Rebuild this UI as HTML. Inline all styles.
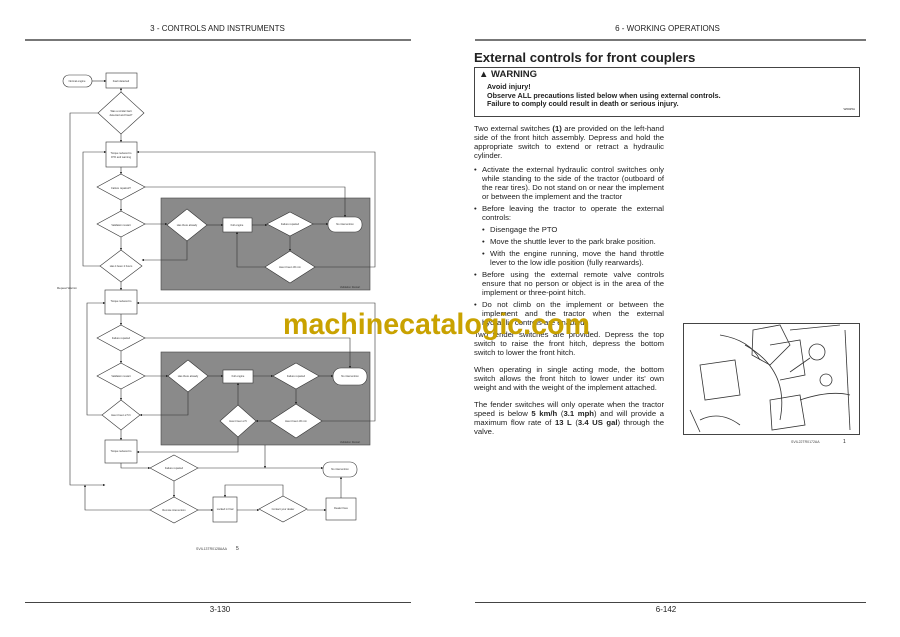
<!DOCTYPE html>
<html><head><meta charset="utf-8"><style>
html,body{margin:0;padding:0;background:#fff;}
body{width:900px;height:637px;position:relative;overflow:hidden;font-family:"Liberation Sans",sans-serif;color:#222;}
.a{position:absolute;}
.p{font-size:7.7px;line-height:9px;text-align:justify;width:190px;left:474px;}
.b{padding-left:8px;position:relative;}
.b:before{content:"•";position:absolute;left:0;}
.bb{padding-left:16px;position:relative;}
.bb:before{content:"•";position:absolute;left:8px;}
</style></head><body>
<div class="a" style="left:0;top:24px;width:435px;text-align:center;font-size:8px;">3 - CONTROLS AND INSTRUMENTS</div>
<div class="a" style="left:450px;top:24px;width:435px;text-align:center;font-size:8px;">6 - WORKING OPERATIONS</div>
<div class="a" style="left:25px;top:39px;width:386px;height:2px;background:#777"></div>
<div class="a" style="left:475px;top:39px;width:391px;height:2px;background:#777"></div>
<div class="a" style="left:25px;top:602px;width:386px;height:1px;background:#444"></div>
<div class="a" style="left:475px;top:602px;width:391px;height:1px;background:#444"></div>
<div class="a" style="left:180px;top:605px;width:80px;text-align:center;font-size:8px;">3-130</div>
<div class="a" style="left:626px;top:605px;width:80px;text-align:center;font-size:8px;">6-142</div>

<div class="a" style="left:474px;top:50px;font-size:13.2px;font-weight:bold;">External controls for front couplers</div>
<div class="a" style="left:474px;top:67px;width:384px;height:48px;border:1.5px solid #444;">
<div style="position:absolute;left:4px;top:1px;font-size:9.5px;font-weight:bold;">▲ WARNING</div>
<div style="position:absolute;left:12px;top:15px;font-size:7.2px;line-height:8.6px;font-weight:bold;">Avoid injury!<br>Observe ALL precautions listed below when using external controls.<br>Failure to comply could result in death or serious injury.</div>
<div style="position:absolute;right:4px;top:39px;font-size:3px;">W0025A</div>
</div>
<div class="a p" style="top:124px;">Two external switches <b>(1)</b> are provided on the left-hand side of the front hitch assembly. Depress and hold the appropriate switch to extend or retract a hydraulic cylinder.
<div class="b" style="margin-top:5px">Activate the external hydraulic control switches only while standing to the side of the tractor (outboard of the rear tires). Do not stand on or near the implement or between the implement and the tractor</div>
<div class="b" style="margin-top:3px">Before leaving the tractor to operate the external controls:</div>
<div class="bb" style="margin-top:3px">Disengage the PTO</div>
<div class="bb" style="margin-top:3px">Move the shuttle lever to the park brake position.</div>
<div class="bb" style="margin-top:3px">With the engine running, move the hand throttle lever to the low idle position (fully rearwards).</div>
<div class="b" style="margin-top:3px">Before using the external remote valve controls ensure that no person or object is in the area of the implement or three-point hitch.</div>
<div class="b" style="margin-top:3px">Do not climb on the implement or between the implement and the tractor when the external hydraulic controls are enabled.</div>
<div style="margin-top:3px">Two fender switches are provided. Depress the top switch to raise the front hitch, depress the bottom switch to lower the front hitch.</div>
<div style="margin-top:8px">When operating in single acting mode, the bottom switch allows the front hitch to lower under its' own weight and with the weight of the implement attached.</div>
<div style="margin-top:8px">The fender switches will only operate when the tractor speed is below <b>5 km/h</b> (<b>3.1 mph</b>) and will provide a maximum flow rate of <b>13 L</b> (<b>3.4 US gal</b>) through the valve.</div>
</div>

<svg class="a" style="left:0;top:0" width="900" height="637" viewBox="0 0 900 637" font-family="Liberation Sans, sans-serif">
<rect x="683.5" y="323.5" width="176" height="111" fill="#fff" stroke="#444"/>
<g fill="none" stroke="#333" stroke-width="0.8">
<path d="M700 365 L735 360 L740 395 L705 400 Z"/><path d="M745 345 Q790 370 780 420"/><path d="M720 335 Q750 340 760 360"/>
<path d="M753 330 L780 325 L790 345 L770 365 L752 355 Z"/><path d="M770 400 L800 395 L805 425 L772 430 Z"/>
<path d="M770 345 L800 340 L805 375 L780 380"/><path d="M790 330 L840 325"/><path d="M700 420 Q720 410 740 425"/>
<circle cx="817" cy="352" r="8"/><path d="M810 358 L790 372"/><circle cx="826" cy="380" r="6"/>
<path d="M690 410 L700 432"/><path d="M800 400 Q830 390 850 395"/><path d="M845 330 L850 430"/>
</g>
<text x="791" y="443" font-size="3.5" fill="#444">SVIL22TR0172AA</text><text x="843" y="443" font-size="5" fill="#222">1</text>
<defs><marker id="ar" markerWidth="4" markerHeight="4" refX="3.5" refY="2" orient="auto"><path d="M0,0 L4,2 L0,4z" fill="#222"/></marker></defs>
<rect x="161" y="198" width="209" height="92" fill="#8a8a8a" stroke="#444" stroke-width="0.6"/>
<rect x="161" y="352" width="209" height="93" fill="#8a8a8a" stroke="#444" stroke-width="0.6"/>
<g fill="none" stroke="#333" stroke-width="0.6" marker-end="url(#ar)">
<path d="M92 81 H106"/><path d="M121 92 V88"/><path d="M121 134 V142"/><path d="M121 167 V174"/><path d="M121 200 V211"/><path d="M121 237 V250"/>
<path d="M98 113 H70 V485 H105"/><path d="M100 266 H83 V152 H106"/><path d="M145 187 H345 V217"/>
<path d="M145 224 H167"/><path d="M207 225 H223"/><path d="M252 225 H267"/><path d="M313 224 H328"/>
<path d="M187 241 V260 H142"/><path d="M290 236 V251"/><path d="M265 267 H237 V232"/><path d="M315 267 H375 V152 H137"/>
<path d="M121 282 V290"/><path d="M121 314 V325"/><path d="M121 351 V363"/><path d="M121 389 V400"/><path d="M121 430 V440"/>
<path d="M102 415 H87 V303 H105"/><path d="M145 338 H350 V368"/><path d="M145 376 H168"/><path d="M208 376 H223"/><path d="M253 376 H273"/><path d="M319 376 H333"/>
<path d="M188 392 V415 H140"/><path d="M296 389 V404"/><path d="M238 405 V383"/><path d="M270 421 H256"/><path d="M322 421 H375 V303 H137"/>
<path d="M238 437 V452 H137"/><path d="M121 463 V468 H150"/><path d="M198 468 H323"/><path d="M265 445 V468"/><path d="M174 481 V497"/>
<path d="M150 510 H85 V485"/><path d="M198 510 H213"/><path d="M237 510 H259"/><path d="M307 510 H326"/><path d="M341 498 V477"/><path d="M283 496 V485 H225 V497"/>
</g>
<g fill="#fff" stroke="#333" stroke-width="0.6">
<rect x="63" y="75" width="29" height="12" rx="6"/><rect x="106" y="73" width="31" height="15"/>
<path d="M121 92 L144 113 L121 134 L98 113Z"/><rect x="106" y="142" width="31" height="25"/>
<path d="M121 174 L145 187 L121 200 L97 187Z"/><path d="M121 211 L145 224 L121 237 L97 224Z"/><path d="M121 250 L142 266 L121 282 L100 266Z"/>
<path d="M187 209 L207 225 L187 241 L167 225Z"/><rect x="223" y="218" width="29" height="14"/><path d="M290 212 L313 224 L290 236 L267 224Z"/><rect x="328" y="217" width="34" height="15" rx="7"/>
<path d="M290 251 L315 267 L290 283 L265 267Z"/>
<rect x="105" y="290" width="32" height="24"/><path d="M121 325 L145 338 L121 351 L97 338Z"/><path d="M121 363 L145 376 L121 389 L97 376Z"/><path d="M121 400 L140 415 L121 430 L102 415Z"/>
<path d="M188 360 L208 376 L188 392 L168 376Z"/><rect x="223" y="370" width="30" height="13"/><path d="M296 363 L319 376 L296 389 L273 376Z"/><rect x="333" y="368" width="34" height="17" rx="8"/>
<path d="M238 405 L256 421 L238 437 L220 421Z"/><path d="M296 404 L322 421 L296 438 L270 421Z"/>
<rect x="105" y="440" width="32" height="23"/><path d="M174 455 L198 468 L174 481 L150 468Z"/><rect x="323" y="462" width="34" height="15" rx="7"/>
<path d="M174 497 L198 510 L174 523 L150 510Z"/><rect x="213" y="497" width="24" height="25"/><path d="M283 496 L307 509 L283 522 L259 509Z"/><rect x="326" y="498" width="30" height="22"/>
</g>
<g font-size="2.6" fill="#333" text-anchor="middle">
<text x="77" y="82">Normal engine</text><text x="121" y="82">Fault detected</text><text x="121" y="112">Was a similar fault</text><text x="121" y="116">detected and fixed?</text>
<text x="121" y="154">Torque reduced to</text><text x="121" y="158">97% and warning</text><text x="121" y="189">Failure repaired?</text><text x="121" y="226">Validation restart</text><text x="121" y="267">Has it been 2 hours</text>
<text x="187" y="226">Has there already</text><text x="237" y="226">Full engine</text><text x="290" y="225">Failure repaired</text><text x="345" y="225">No intervention</text><text x="290" y="268">Has it been 30 min</text>
<text x="121" y="302">Torque reduced to</text><text x="121" y="339">Failure repaired</text><text x="121" y="377">Validation restart</text><text x="121" y="416">Has it been 2.5 h</text>
<text x="188" y="377">Has there already</text><text x="238" y="377">Full engine</text><text x="296" y="377">Failure repaired</text><text x="350" y="377">No intervention</text><text x="238" y="422">Has it been 2.5</text><text x="296" y="422">Has it been 30 min</text>
<text x="121" y="452">Torque reduced to</text><text x="174" y="469">Failure repaired</text><text x="340" y="470">No intervention</text><text x="174" y="511">Remote intervention</text><text x="225" y="510">Locked in final</text><text x="283" y="510">Contact your dealer</text><text x="341" y="509">Dealer fixes</text>
<text x="350" y="288">Validation Restart</text><text x="350" y="443">Validation Restart</text>
</g>
<text x="57" y="289" font-size="3" fill="#333">Repeat Warnin</text>
<text x="196" y="550" font-size="3.5" fill="#444">SVIL13TR0128AAA</text><text x="236" y="550" font-size="5" fill="#222">5</text>
<text x="283" y="334" font-size="30" font-weight="bold" fill="#c9a200" textLength="307" lengthAdjust="spacingAndGlyphs">machinecatalogic.com</text>
</svg>
</body></html>
